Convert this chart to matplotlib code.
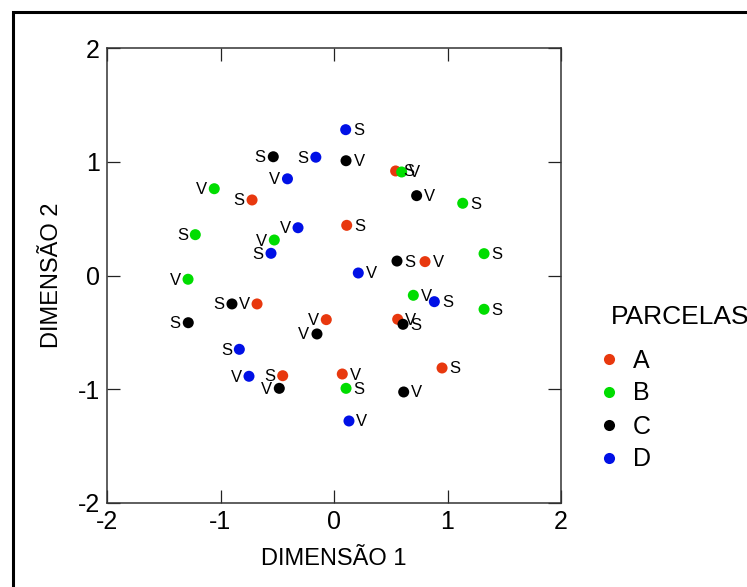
import matplotlib
matplotlib.use("Agg")
import matplotlib.pyplot as plt
from matplotlib.lines import Line2D
from matplotlib.patches import Rectangle

plt.rcParams['font.family'] = ['Liberation Sans', 'DejaVu Sans']
plt.rcParams['axes.unicode_minus'] = False

# ---- data ----
groups = ["A", "B", "C", "D"]
colors = ["#E8380E", "#00DD00", "#000000", "#0010E6"]

a_x = [-0.722, 0.543, 0.112, 0.802, -0.678, -0.068, -0.452, 0.561, 0.952, 0.073]
a_y = [0.664, 0.919, 0.441, 0.122, -0.250, -0.388, -0.881, -0.385, -0.813, -0.866]
a_lab = ["S", "S", "S", "V", "V", "V", "S", "V", "S", "V"]

b_x = [-1.055, -0.526, -1.222, -1.286, 0.596, 1.134, 1.322, 0.699, 1.322, 0.106]
b_y = [0.763, 0.312, 0.359, -0.033, 0.910, 0.635, 0.192, -0.174, -0.297, -0.992]
b_lab = ["V", "V", "S", "V", "V", "S", "S", "V", "S", "S"]

c_x = [-0.535, 0.106, 0.728, 0.555, -0.899, -1.284, -0.150, -0.482, 0.608, 0.614]
c_y = [1.044, 1.009, 0.702, 0.127, -0.250, -0.415, -0.514, -0.992, -0.429, -1.024]
c_lab = ["S", "V", "V", "S", "S", "S", "V", "V", "S", "V"]

d_x = [-0.160, -0.410, -0.317, -0.555, 0.103, 0.214, -0.834, -0.749, 0.884, 0.132]
d_y = [1.040, 0.850, 0.420, 0.195, 1.282, 0.022, -0.649, -0.886, -0.230, -1.279]
d_lab = ["S", "V", "V", "S", "S", "V", "S", "V", "S", "V"]

xs = [a_x, b_x, c_x, d_x]
ys = [a_y, b_y, c_y, d_y]
labs = [a_lab, b_lab, c_lab, d_lab]

ticks = [-2, -1, 0, 1, 2]

fig = plt.figure(figsize=(7.47, 5.87), dpi=100)
ax = fig.add_axes([107/747, 84/587, 454/747, 455/587])

for g, col, x, y, lab in zip(groups, colors, xs, ys, labs):
    ax.scatter(x, y, s=63, color=col, edgecolors='none', zorder=3, label=g)
    for xi, yi, li in zip(x, y, lab):
        off = 13 if xi > 0 else -13
        ax.annotate(li, (xi, yi), xytext=(off, -1), textcoords='offset pixels',
                    ha='center', va='center', fontsize=12, color='black', zorder=4)

ax.set_xlim(-2, 2)
ax.set_ylim(-2, 2)
ax.set_xticks(ticks)
ax.set_yticks(ticks)
ax.set_xticklabels([str(t) for t in ticks])
ax.set_yticklabels([str(t) for t in ticks])
ax.tick_params(direction='in', length=9.5, width=0.9, color='#222222',
               labelsize=18, top=True, right=True, pad=5)
for sp in ax.spines.values():
    sp.set_linewidth(1.1)
    sp.set_color('#333333')

ax.set_xlabel("DIMENSÃO 1", fontsize=17, labelpad=10)
ax.set_ylabel("DIMENSÃO 2", fontsize=17, labelpad=11)

handles = [Line2D([], [], marker='o', linestyle='none', markersize=8,
                  markerfacecolor=c, markeredgecolor='none') for c in colors]
leg = fig.legend(handles, groups, loc='center left',
                 bbox_to_anchor=(603/747, 1 - 410/587), frameon=False,
                 fontsize=18, handletextpad=0.7, borderpad=0,
                 labelspacing=0.36, handlelength=0.5, borderaxespad=0)
fig.text(611/747, 1 - 324/587, "PARCELAS", fontsize=19, ha='left',
         va='baseline')

# outer frame
fig.patches.append(Rectangle((13/747, -0.05), 1.2, 1 - 12/587 + 0.05,
                             transform=fig.transFigure, fill=False,
                             linewidth=2.2, edgecolor='black'))

fig.savefig("out.png", dpi=100)
